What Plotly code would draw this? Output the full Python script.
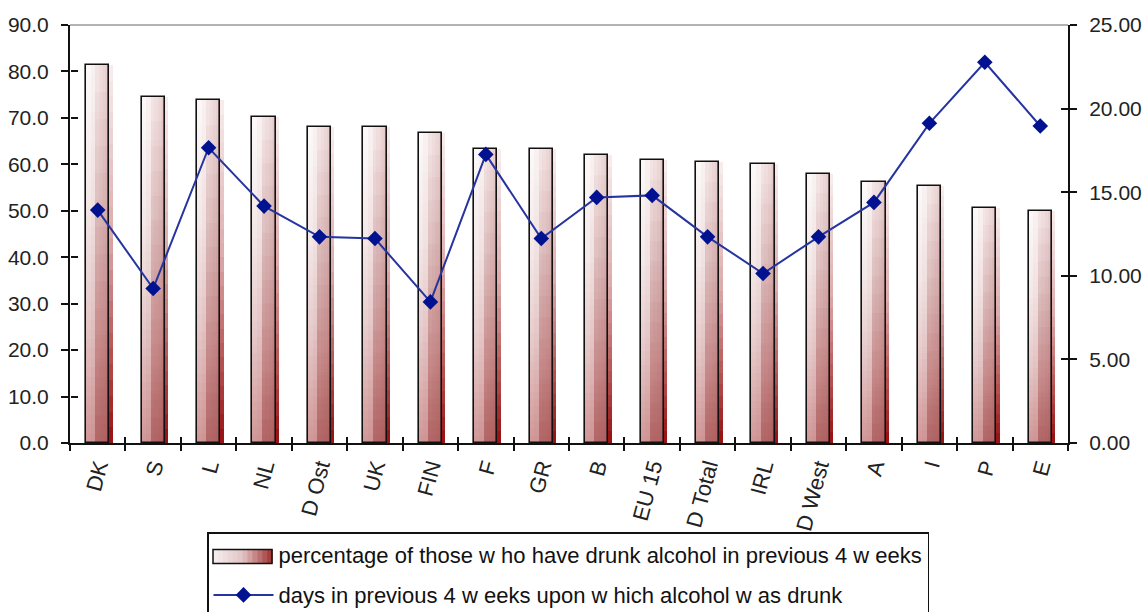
import plotly.graph_objects as go

# ---------------- data ----------------
countries = ["DK", "S", "L", "NL", "D Ost", "UK", "FIN", "F", "GR", "B",
             "EU 15", "D Total", "IRL", "D West", "A", "I", "P", "E"]
pct_drunk = [81.4, 74.6, 73.8, 70.3, 68.0, 68.0, 66.7, 63.2, 63.2, 62.1,
             60.9, 60.5, 60.1, 58.0, 56.1, 55.4, 50.6, 49.9]
days_drunk = [13.93, 9.24, 17.66, 14.17, 12.33, 12.23, 8.44, 17.26, 12.23, 14.69,
              14.81, 12.33, 10.14, 12.33, 14.39, 19.12, 22.77, 18.96]
left_ticks = [0, 10, 20, 30, 40, 50, 60, 70, 80, 90]
right_ticks = [0, 5, 10, 15, 20, 25]

bar_name = "percentage of those w ho have drunk alcohol in previous 4 w eeks"
line_name = "days in previous 4 w eeks upon w hich alcohol w as drunk"

FONT = "Liberation Sans, Arial, sans-serif"
BW = 0.42  # bar width in category units


def lerp_color(stops, s):
    for (s0, c0), (s1, c1) in zip(stops, stops[1:]):
        if s <= s1:
            t = (s - s0) / (s1 - s0) if s1 > s0 else 0
            return tuple(round(a + (b - a) * t) for a, b in zip(c0, c1))
    return stops[-1][1]


main_stops = [(0.0, (252, 249, 249)), (0.35, (244, 232, 232)),
              (0.65, (230, 202, 202)), (1.0, (208, 150, 150))]
shadow_stops = [(0.0, (248, 238, 238)), (0.45, (220, 170, 170)),
                (1.0, (150, 15, 15))]

fig = go.Figure()

# shadow (shifted right), vertical gradient
NS = 24
for k in range(NS):
    frac = 1 - k / NS
    c = lerp_color(shadow_stops, (k + 0.5) / NS)
    fig.add_trace(go.Bar(
        x=countries, y=[v * frac for v in pct_drunk],
        width=BW, offset=-BW / 2 + 0.06,
        marker=dict(color="rgb(%d,%d,%d)" % c, line=dict(width=0)),
        showlegend=False, hoverinfo="skip"))

# main bar body, vertical gradient
N = 40
for k in range(N):
    frac = 1 - k / N
    c = lerp_color(main_stops, (k + 0.5) / N)
    fig.add_trace(go.Bar(
        x=countries, y=[v * frac for v in pct_drunk],
        width=BW, offset=-BW / 2,
        marker=dict(color="rgb(%d,%d,%d)" % c, line=dict(width=0)),
        showlegend=False, hoverinfo="skip"))

# darkening towards the right edge (smooth, stronger lower down)
for wf in (0.8, 0.6, 0.45, 0.3, 0.18, 0.1):
    w = BW * wf
    fig.add_trace(go.Bar(
        x=countries, y=pct_drunk, width=w, offset=BW / 2 - w,
        marker=dict(color="rgba(150,25,25,0.03)", line=dict(width=0)),
        showlegend=False, hoverinfo="skip"))
NH = 14
for i in range(NH):
    hf = 1 - i / NH
    w = BW * 0.6
    fig.add_trace(go.Bar(
        x=countries, y=[v * hf for v in pct_drunk], width=w, offset=BW / 2 - w,
        marker=dict(color="rgba(150,20,20,0.028)", line=dict(width=0)),
        showlegend=False, hoverinfo="skip"))

# outline
fig.add_trace(go.Bar(
    x=countries, y=pct_drunk, width=BW, offset=-BW / 2,
    marker=dict(color="rgba(0,0,0,0)", line=dict(color="#111", width=1.6)),
    showlegend=False, hoverinfo="skip"))

# legend entry for bars (symbol drawn separately as shapes)
fig.add_trace(go.Bar(
    x=[countries[0]], y=[None], name=bar_name, legendgroup="a", legendrank=1,
    marker=dict(color="rgba(0,0,0,0)", line=dict(width=0))))

# line series on right axis
fig.add_trace(go.Scatter(
    x=countries, y=days_drunk, yaxis="y2", mode="lines+markers",
    name=line_name, legendgroup="b", legendrank=2,
    line=dict(color="#2634a0", width=2),
    marker=dict(symbol="diamond", size=12, color="#00128f")))

# helper traces so that the crossing-tick overlay axes get drawn
fig.add_trace(go.Scatter(x=[None], y=[None], xaxis="x2", yaxis="y3",
                         showlegend=False, hoverinfo="skip"))
fig.add_trace(go.Scatter(x=[None], y=[None], xaxis="x2", yaxis="y4",
                         showlegend=False, hoverinfo="skip"))

tickfont = dict(family=FONT, size=21, color="#222")
tk = dict(tickcolor="#111", tickwidth=2)

# legend symbol for the bar series (horizontal gradient box)
PX0, PX1, PY0, PY1 = 70, 1068, 25, 442.7   # plot area in pixels
def px(x):
    return (x - PX0) / (PX1 - PX0)
def py(y):
    return (PY1 - y) / (PY1 - PY0)

sym_x0, sym_x1, sym_y0, sym_y1 = 213, 272, 549, 563
shapes = [dict(type="line", xref="paper", yref="paper", x0=0, x1=1, y0=1, y1=1,
               line=dict(color="#9a9a9a", width=1.5))]
NSTRIP = 12
sym_stops = [(0.0, (246, 240, 240)), (0.5, (226, 196, 196)), (1.0, (160, 50, 50))]
for i in range(NSTRIP):
    a = sym_x0 + (sym_x1 - sym_x0) * i / NSTRIP
    b = sym_x0 + (sym_x1 - sym_x0) * (i + 1) / NSTRIP + 0.6
    c = lerp_color(sym_stops, (i + 0.5) / NSTRIP)
    shapes.append(dict(type="rect", xref="paper", yref="paper",
                       x0=px(a), x1=px(b), y0=py(sym_y1), y1=py(sym_y0),
                       fillcolor="rgb(%d,%d,%d)" % c, line=dict(width=0)))
shapes.append(dict(type="rect", xref="paper", yref="paper",
                   x0=px(sym_x0), x1=px(sym_x1), y0=py(sym_y1), y1=py(sym_y0),
                   fillcolor="rgba(0,0,0,0)", line=dict(color="#111", width=1.5)))

fig.update_layout(
    width=1145, height=612,
    margin=dict(l=70, r=77, t=25, b=169, autoexpand=False),
    paper_bgcolor="white", plot_bgcolor="white",
    barmode="overlay", bargap=0,
    font=dict(family=FONT, size=21, color="#222"),
    xaxis=dict(type="category", range=[-0.5, len(countries) - 0.5],
               showline=True, linecolor="#111", linewidth=2,
               ticks="outside", tickson="boundaries", ticklen=6, **tk,
               tickangle=-75, tickfont=dict(family=FONT, size=22, color="#222"),
               showgrid=False, zeroline=False, automargin=False),
    xaxis2=dict(overlaying="x", type="linear", range=[-0.5, len(countries) - 0.5],
                tick0=-0.5, dtick=1, ticks="inside", ticklen=6, **tk,
                showticklabels=False, showline=False, showgrid=False,
                zeroline=False, anchor="free", position=0, side="bottom",
                automargin=False),
    yaxis=dict(range=[0, 90], tickvals=left_ticks, tickformat=".1f",
               showline=True, linecolor="#111", linewidth=2,
               ticks="outside", ticklen=7, **tk,
               tickfont=tickfont, showgrid=False, zeroline=False,
               ticklabelstandoff=8, automargin=False),
    yaxis2=dict(range=[0, 25], tickvals=right_ticks, tickformat=".2f",
                overlaying="y", side="right", anchor="x",
                showline=True, linecolor="#111", linewidth=2,
                ticks="outside", ticklen=7, **tk,
                tickfont=tickfont, showgrid=False, zeroline=False,
                ticklabelstandoff=8, automargin=False),
    yaxis3=dict(range=[0, 90], tickvals=left_ticks, overlaying="y", side="left",
                anchor="free", position=0, ticks="inside", ticklen=7, **tk,
                showticklabels=False, showline=False,
                showgrid=False, zeroline=False, automargin=False),
    yaxis4=dict(range=[0, 25], tickvals=right_ticks, overlaying="y", side="right",
                anchor="free", position=1, ticks="inside", ticklen=7, **tk,
                showticklabels=False, showline=False,
                showgrid=False, zeroline=False, automargin=False),
    legend=dict(x=px(207), xanchor="left", yref="container",
                y=1 - 532 / 612, yanchor="top",
                bordercolor="#111", borderwidth=1.5, bgcolor="rgba(0,0,0,0)",
                font=dict(family=FONT, size=22, color="#111"),
                traceorder="grouped", tracegroupgap=9, itemwidth=60),
    shapes=shapes,
    showlegend=True,
)

fig.write_html("out.html", post_script="document.body.style.margin='0px';",
               config={"displayModeBar": False})
